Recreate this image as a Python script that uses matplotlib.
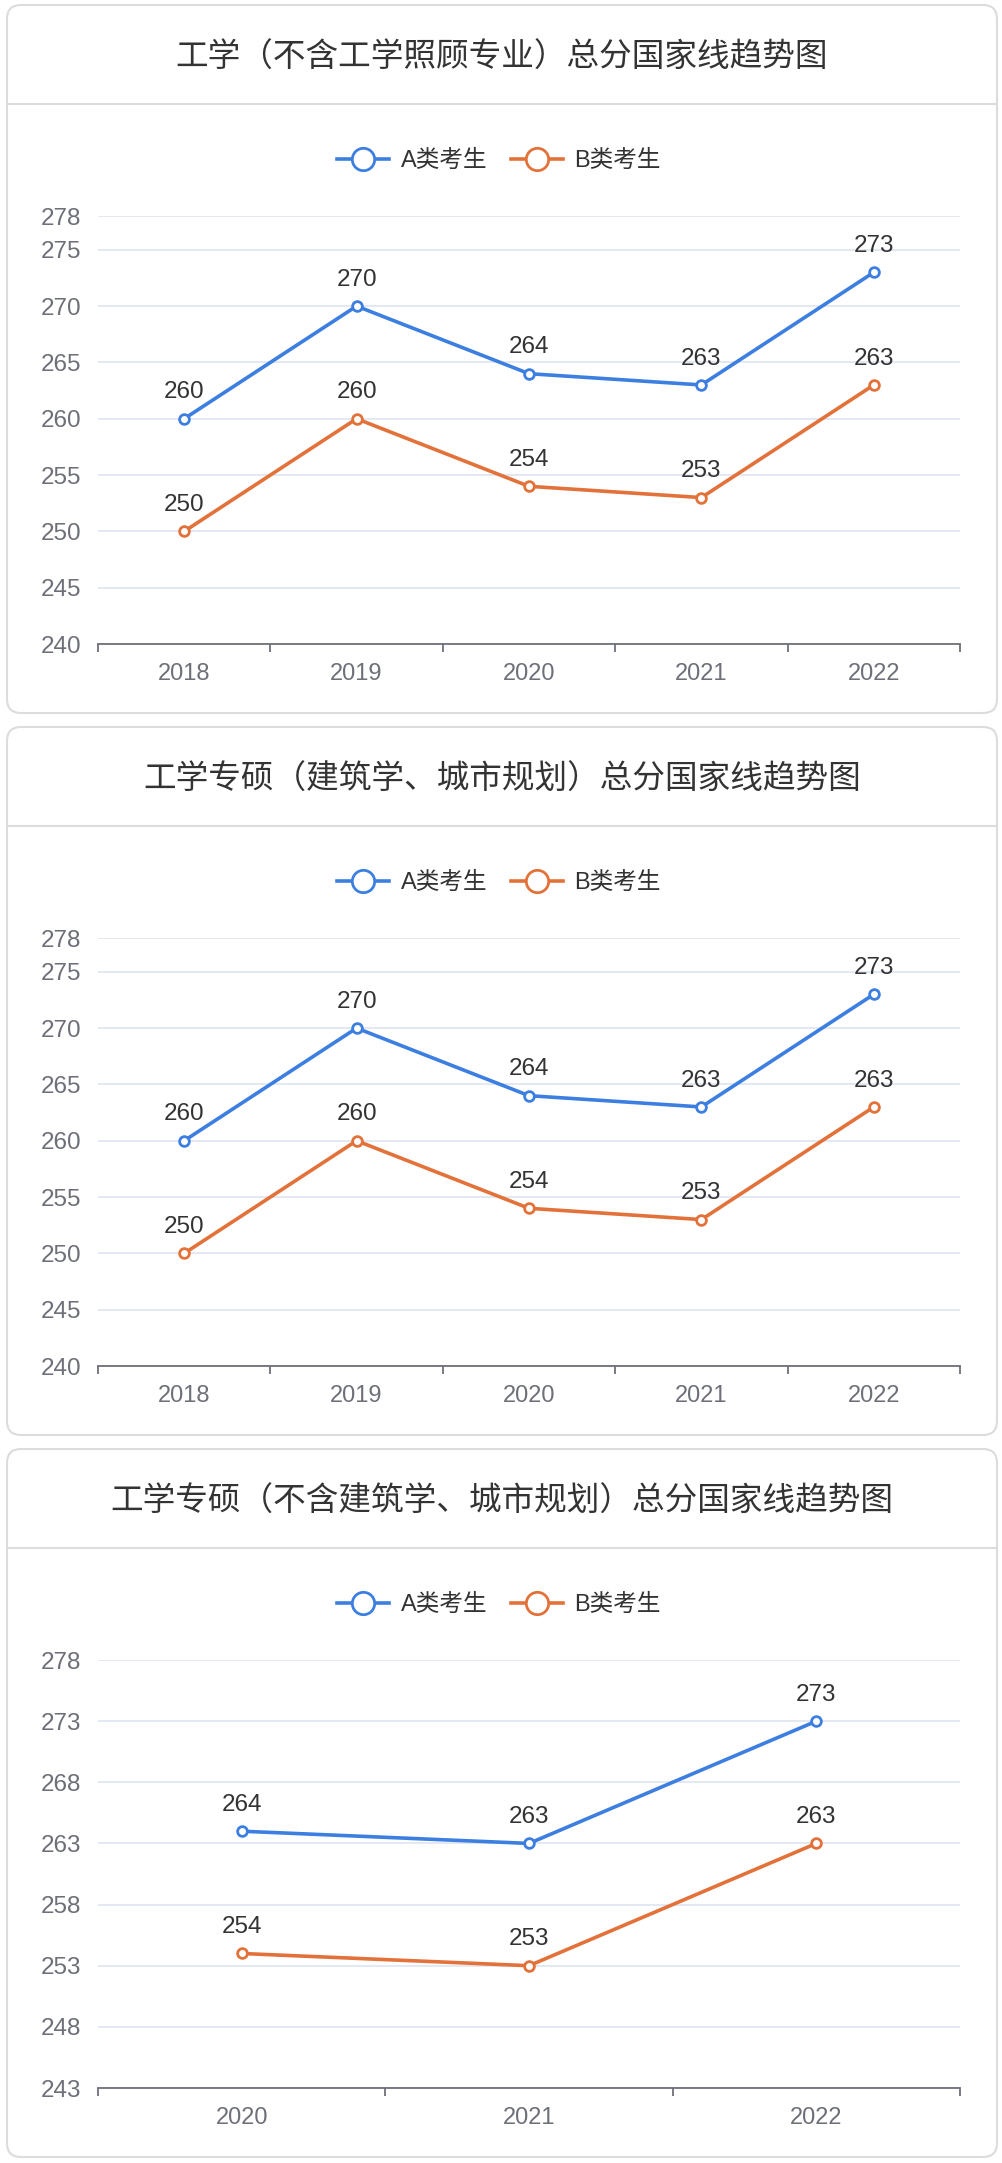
import matplotlib
matplotlib.use("Agg")
import matplotlib.pyplot as plt
from matplotlib.patches import FancyBboxPatch
from matplotlib.lines import Line2D
from matplotlib.transforms import IdentityTransform

plt.rcParams['font.family'] = ['Liberation Sans', 'Noto Sans CJK SC', 'DejaVu Sans']

# datos de las tres graficas
titulos = ["工学（不含工学照顾专业）总分国家线趋势图",
           "工学专硕（建筑学、城市规划）总分国家线趋势图",
           "工学专硕（不含建筑学、城市规划）总分国家线趋势图"]
anios_1 = ["2018", "2019", "2020", "2021", "2022"]
a_1 = [260, 270, 264, 263, 273]
b_1 = [250, 260, 254, 253, 263]
anios_2 = ["2018", "2019", "2020", "2021", "2022"]
a_2 = [260, 270, 264, 263, 273]
b_2 = [250, 260, 254, 253, 263]
anios_3 = ["2020", "2021", "2022"]
a_3 = [264, 263, 273]
b_3 = [254, 253, 263]
yticks_1 = [240, 245, 250, 255, 260, 265, 270, 275, 278]
yticks_3 = [243, 248, 253, 258, 263, 268, 273, 278]
series = ["A类考生", "B类考生"]

AZUL = "#3d7fe0"
NARANJA = "#e2723a"
GRIS = "#6e7079"
W, H = 1003, 2163

fig = plt.figure(figsize=(W / 100, H / 100), dpi=100)
fig.patch.set_facecolor("white")


def tarjeta(top, titulo):
    # marco redondeado con la cabecera (debajo de los ejes)
    p = FancyBboxPatch((7, H - top - 708), 990, 708,
                       boxstyle="round,pad=0,rounding_size=14",
                       transform=IdentityTransform(), facecolor="white",
                       edgecolor="#dcdcdc", linewidth=1.5, zorder=-10)
    fig.add_artist(p)
    fig.add_artist(Line2D([8, 996], [H - top - 99, H - top - 99],
                          transform=IdentityTransform(), color="#dcdcdc",
                          linewidth=1.5, zorder=-9))
    fig.text(502 / W, 1 - (top + 53) / H, titulo, ha="center", va="center",
             fontsize=23.5, color="#333333")


def grafica(top, anios, a, b, yticks):
    ax = fig.add_axes([98 / W, 1 - (top + 639) / H, 862 / W, 428 / H])
    ax.set_zorder(5)
    ax.patch.set_alpha(0)
    x = list(range(len(anios)))
    for vals, col, nom in [(a, AZUL, series[0]), (b, NARANJA, series[1])]:
        ax.plot(x, vals, color=col, linewidth=2.6, marker="o", markersize=7,
                markerfacecolor="white", markeredgewidth=2, label=nom, zorder=3)
        for xi, v in zip(x, vals):
            ax.annotate(str(v), (xi, v), xytext=(0, 11), textcoords="offset points",
                        ha="center", va="bottom", fontsize=17.5, color="#333333")
    ax.set_xlim(-0.5, len(anios) - 0.5)
    ax.set_ylim(yticks[0], yticks[-1])
    ax.set_yticks(yticks)
    ax.set_yticklabels([str(t) for t in yticks])
    ax.set_xticks(x)
    ax.set_xticklabels(anios)
    ax.set_xticks([i - 0.5 for i in range(len(anios) + 1)], minor=True)
    ax.tick_params(axis="x", which="major", length=0, pad=14, labelsize=17, labelcolor=GRIS)
    ax.tick_params(axis="x", which="minor", length=6, width=1.3, color=GRIS, direction="out")
    ax.tick_params(axis="y", length=0, pad=12, labelsize=17.5, labelcolor=GRIS)
    for s in ["top", "left", "right"]:
        ax.spines[s].set_visible(False)
    ax.spines["bottom"].set_color(GRIS)
    ax.spines["bottom"].set_linewidth(1.3)
    ax.grid(axis="y", color="#e0e6f1", linewidth=1.3, zorder=0)
    ax.set_axisbelow(True)
    leg = ax.legend(loc="center", bbox_to_anchor=(499 / W, 1 - (top + 156) / H),
                    bbox_transform=fig.transFigure, ncol=2, frameon=False,
                    fontsize=17, markerscale=2.3, handlelength=2.2, handletextpad=0.5,
                    columnspacing=1.0)
    for t in leg.get_texts():
        t.set_color("#333333")
    return ax


tops = [5, 727, 1449]
tarjeta(tops[0], titulos[0])
tarjeta(tops[1], titulos[1])
tarjeta(tops[2], titulos[2])
grafica(tops[0], anios_1, a_1, b_1, yticks_1)
grafica(tops[1], anios_2, a_2, b_2, yticks_1)
grafica(tops[2], anios_3, a_3, b_3, yticks_3)

plt.savefig("out.png", dpi=100)
